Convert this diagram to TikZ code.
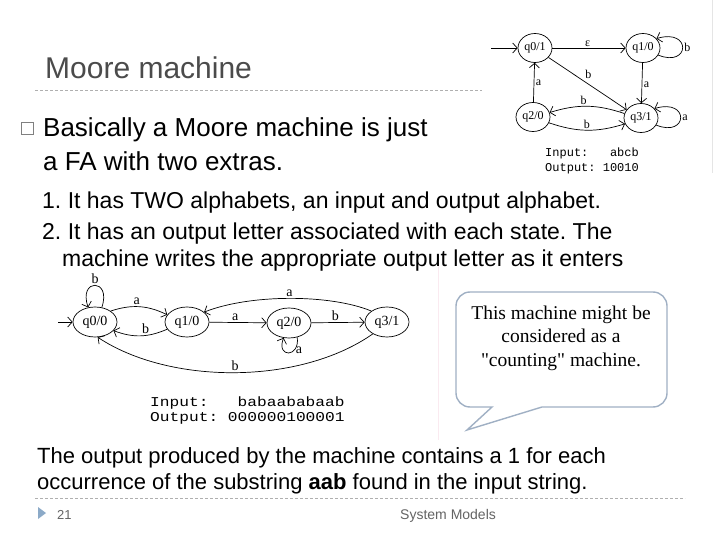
\documentclass[tikz,border=0pt]{standalone}
\usepackage{fontspec}
\setmainfont{Liberation Sans}
\newfontfamily\serifd{Liberation Serif}
\newfontfamily\monod{Liberation Mono}
\newfontfamily\monowide[FakeStretch=1.2]{Liberation Mono}
\usetikzlibrary{shapes.geometric,arrows.meta}
\definecolor{titlegray}{RGB}{75,75,75}
\definecolor{dashgray}{RGB}{175,175,175}
\definecolor{calloutc}{RGB}{160,176,196}
\definecolor{footc}{RGB}{140,170,200}
\definecolor{footgray}{RGB}{100,100,100}
\definecolor{faintpink}{RGB}{250,234,240}
\frenchspacing
\begin{document}
\begin{tikzpicture}[x=1pt,y=-1pt,
  txt/.style={anchor=base west, inner sep=0pt, text=black},
  stA/.style={ellipse, draw, line width=0.7pt, minimum width=34pt, minimum height=29pt, inner sep=0pt, font=\serifd\fontsize{12}{12}\selectfont},
  stB/.style={ellipse, draw, line width=0.7pt, minimum width=44pt, minimum height=30pt, inner sep=0pt, font=\serifd\fontsize{14}{14}\selectfont},
  arr/.style={-{Straight Barb[length=4.5pt,width=10pt]}, line width=0.7pt},
  lblA/.style={font=\serifd\fontsize{12}{12}\selectfont, inner sep=1.5pt},
  lblB/.style={font=\serifd\fontsize{14}{14}\selectfont, inner sep=1.5pt},
  dashln/.style={draw=dashgray, line width=0.8pt, dash pattern=on 3pt off 2pt}
]
\useasboundingbox (0,0) rectangle (720,540);
\fill[white] (0,0) rectangle (720,540);

% faint edges
\draw[black!10, line width=0.8pt] (712,0) -- (712,173);
\draw[faintpink, line width=1pt] (438,262) -- (438,440);

% title
\node[txt, text=titlegray, font=\fontsize{30}{34}\selectfont] (title) at (45,79) {Moore machine};
\draw[dashln] (35,90) -- (482,90);

% bullet text
\draw[gray, line width=0.9pt] (21,122) rectangle (33,134);
\node[txt, font=\fontsize{26}{30}\selectfont] (l1) at (43,137) {Basically a Moore machine is just};
\node[txt, font=\fontsize{26}{30}\selectfont] (l2) at (43,171) {a FA with two extras.};
\node[txt, font=\fontsize{23}{27}\selectfont] (l3) at (42,208) {1. It has TWO alphabets, an input and output alphabet.};
\node[txt, font=\fontsize{23}{27}\selectfont] (l4) at (42,240) {2. It has an output letter associated with each state. The};
\node[txt, font=\fontsize{23}{27}\selectfont] (l5) at (62,266) {machine writes the appropriate output letter as it enters};

% top-right machine
\node[stA] (A0) at (535,48) {q0/1};
\node[stA] (A1) at (643,48) {q1/0};
\node[stA] (A2) at (533,117) {q2/0};
\node[stA] (A3) at (641,118) {q3/1};
\coordinate (A0s) at (491,48);
\draw[arr] (A0s) -- (A0.west);
\draw[arr] (A0) -- node[lblA, above, pos=0.48] {ε} (A1);
\draw[arr] (A1.-25) .. controls (690,68) and (692,28) .. node[lblA, right, pos=0.5] {b} (A1.35);
\draw[arr] (A1) -- node[lblA, right, pos=0.55] {a} (A3);
\draw[arr] (A0.-35) -- node[lblA, above right, pos=0.45] {b} (A3.150);
\draw[arr] (A2) -- node[lblA, right, pos=0.5] {a} (A0);
\draw[arr] (A3.165) to[bend right=18] node[lblA, above, pos=0.55] {b} (A2.15);
\draw[arr] (A2.-20) to[bend right=18] node[lblA, above, pos=0.5] {b} (A3.-160);
\draw[arr] (A3.-25) .. controls (688,138) and (690,98) .. node[lblA, right, pos=0.5] {a} (A3.35);
\node[txt, font=\monod\fontsize{12}{12}\selectfont] (ioA1) at (545,157) {Input:\ \ \ abcb};
\node[txt, font=\monod\fontsize{12}{12}\selectfont] (ioA2) at (545,172) {Output: 10010};

% bottom-left machine
\node[stB] (B0) at (95,322) {q0/0};
\node[stB] (B1) at (187,322) {q1/0};
\node[stB] (B2) at (289,323) {q2/0};
\node[stB] (B3) at (387,322) {q3/1};
\coordinate (B0s) at (58,322);
\draw[arr] (B0s) -- (B0.west);
\draw[arr] (B0.65) .. controls (112,278) and (78,278) .. node[lblB, above, pos=0.5] {b} (B0.115);
\draw[arr] (B0.35) to[bend left=22] node[lblB, above, pos=0.45] {a} (B1.160);
\draw[arr] (B1.200) to[bend left=22] node[lblB, above, pos=0.4] {b} (B0.-25);
\draw[arr] (B1) -- node[lblB, above, pos=0.45] {a} (B2);
\draw[arr] (B2.-60) .. controls (300,358) and (276,358) .. node[lblB, right, pos=0.3] {a} (B2.-110);
\draw[arr] (B2) -- node[lblB, above, pos=0.45] {b} (B3);
\draw[arr] (B3.145) .. controls (330,294) and (250,294) .. node[lblB, above, pos=0.5] {a} (B1.30);
\draw[arr] (B3.-140) .. controls (300,385) and (170,385) .. node[lblB, above, pos=0.5] {b} (B0.-80);
\node[txt, font=\monowide\fontsize{13.5}{13.5}\selectfont] (ioB1) at (150,406) {Input:\ \ \ babaababaab};
\node[txt, font=\monowide\fontsize{13.5}{13.5}\selectfont] (ioB2) at (150,421) {Output: 000000100001};

% callout
\draw[calloutc, line width=1.4pt, line join=miter] (467,430) -- (492,407) {[rounded corners=14pt] -- (456,407) -- (456,292) -- (667,292) -- (667,407)} -- (542,407) -- cycle;
\node[align=center, font=\serifd\fontsize{19.5}{23.5}\selectfont, inner sep=0pt] (call) at (561,338) {This machine might be\\considered as a\\"counting" machine.};

% bottom text
\node[txt, font=\fontsize{22}{26}\selectfont] (b1) at (37,463) {The output produced by the machine contains a 1 for each};
\node[txt, font=\fontsize{22}{26}\selectfont] (b2) at (37,489) {occurrence of the substring \textbf{aab} found in the input string.};
\draw[dashln] (35,498) -- (685,498);

% footer
\fill[footc] (38,507) -- (46,513) -- (38,519) -- cycle;
\node[txt, text=footgray, font=\fontsize{13}{13}\selectfont] (pg) at (57,519) {21};
\node[txt, text=footgray, font=\fontsize{14}{14}\selectfont] (sm) at (400,519) {System Models};
\end{tikzpicture}
\end{document}
